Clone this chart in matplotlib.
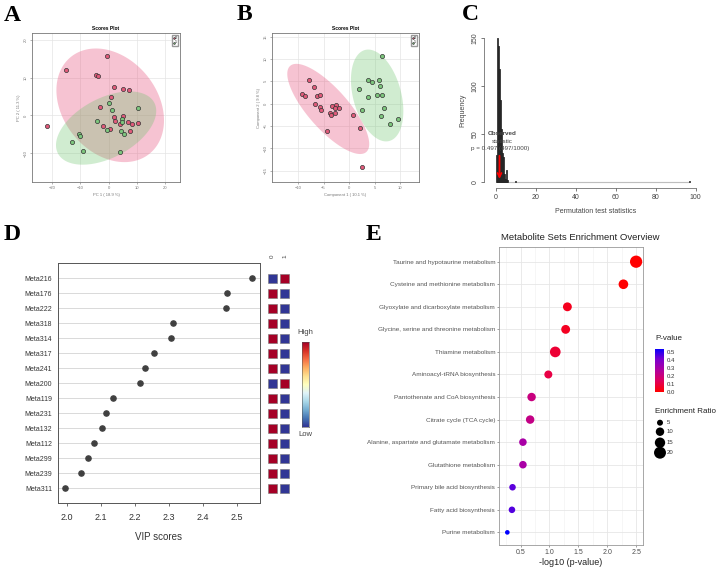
import numpy as np
import matplotlib
matplotlib.use("Agg")
import matplotlib.pyplot as plt
from matplotlib.colors import LinearSegmentedColormap, Normalize

plt.rcParams['font.family'] = ['Liberation Sans', 'DejaVu Sans']

# ---- A: PCA scores (groups 0 / 1)
A_red_x = [-0.6, -14.9, -4.4, -3.9, 2.0, 5.1, 7.1, 0.9, -2.9, 2.0, 2.4, 5.1, -1.8, 4.1, 6.8, 8.2, 10.4, 0.4, 7.6, -21.8]
A_red_y = [15.7, 12.0, 10.6, 10.3, 7.6, 7.1, 6.8, 5.0, 2.2, -0.3, -1.6, -0.2, -2.8, -2.2, -1.8, -2.2, -1.9, -3.7, -4.2, -2.8]
A_grn_x = [0.1, 1.2, 10.4, -4.1, 4.7, 4.7, -0.6, -10.4, -10.0, 4.5, 5.3, -12.9, -9.1, 4.1]
A_grn_y = [3.2, 1.5, 1.9, -1.6, -0.9, -1.7, -3.9, -4.8, -5.5, -4.2, -4.8, -7.0, -9.3, -9.6]

# ---- B: PLS-DA scores
B_red_x = [-7.9, -6.8, -9.2, -8.6, -6.2, -5.6, -6.6, -5.6, -5.5, -3.3, -2.6, -2.8, -1.9, -3.8, -3.6, -2.7, -4.4, 0.8, 2.1, 2.6]
B_red_y = [5.4, 3.7, 2.1, 1.8, 1.7, 1.9, -0.1, -0.8, -1.4, -0.6, -0.3, -1.0, -1.0, -2.0, -2.5, -2.1, -6.2, -2.5, -5.4, -14.1]
B_grn_x = [6.4, 3.7, 4.5, 5.8, 6.0, 1.9, 3.7, 5.4, 6.4, 6.8, 2.5, 6.2, 8.1, 9.6]
B_grn_y = [10.7, 5.3, 4.9, 5.4, 4.0, 3.3, 1.4, 1.9, 2.0, -1.0, -1.4, -2.8, -4.6, -3.4]

# ---- C: permutation histogram (bin width 0.5)
perm_bin_left = [0.0, 0.5, 1.0, 1.5, 2.0, 2.5, 3.0, 3.5, 4.0, 4.5, 5.0, 5.5, 9.5, 96.5]
perm_counts = [28, 150, 142, 118, 85, 55, 30, 26, 8, 3, 12, 2, 1, 1]
perm_max = 97.0
obs_stat = 1.9
obs_label = "p = 0.497 (497/1000)"

# ---- D: VIP scores
vip_names = ["Meta216", "Meta176", "Meta222", "Meta318", "Meta314", "Meta317", "Meta241", "Meta200",
             "Meta119", "Meta231", "Meta132", "Meta112", "Meta299", "Meta239", "Meta311"]
vip_scores = [2.545, 2.469, 2.467, 2.311, 2.305, 2.256, 2.231, 2.214, 2.135, 2.117, 2.105, 2.081, 2.063, 2.041, 1.995]
vip_group0 = [0, 1, 1, 1, 1, 1, 1, 0, 1, 1, 1, 1, 1, 1, 1]   # 1 = high
vip_group1 = [1, 0, 0, 0, 0, 0, 0, 1, 0, 0, 0, 0, 0, 0, 0]

# ---- E: enrichment overview
msea_names = ["Taurine and hypotaurine metabolism", "Cysteine and methionine metabolism",
              "Glyoxylate and dicarboxylate metabolism", "Glycine, serine and threonine metabolism",
              "Thiamine metabolism", "Aminoacyl-tRNA biosynthesis", "Pantothenate and CoA biosynthesis",
              "Citrate cycle (TCA cycle)", "Alanine, aspartate and glutamate metabolism",
              "Glutathione metabolism", "Primary bile acid biosynthesis", "Fatty acid biosynthesis",
              "Purine metabolism"]
msea_logp = [2.50, 2.28, 1.31, 1.28, 1.10, 0.98, 0.69, 0.665, 0.54, 0.54, 0.36, 0.35, 0.27]
msea_ratio = [21, 13, 11, 11, 16, 9, 10, 10, 8, 8, 6, 6, 3]
ratio_legend = [5, 10, 15, 20]

W, H = 719, 568


def rect(l, t, r, b):
    return [l / W, 1 - b / H, (r - l) / W, (b - t) / H]


def fpos(x, y):
    return x / W, 1 - y / H


fig = plt.figure(figsize=(W / 100, H / 100), dpi=100)


def conf_ellipse(ax, xs, ys, color, alpha):
    pts = np.column_stack([xs, ys])
    mu = pts.mean(axis=0)
    vals, vecs = np.linalg.eigh(np.cov(pts.T))
    t = np.linspace(0, 2 * np.pi, 200)
    circ = np.vstack([np.cos(t), np.sin(t)]) * np.sqrt(vals * 5.991)[:, None]
    ell = mu[:, None] + vecs @ circ
    ax.fill(ell[0], ell[1], color=color, alpha=alpha, lw=0, zorder=1)


def scores_panel(box, rx, ry, gx, gy, xlim, ylim, xticks, yticks, xlabel, ylabel):
    ax = fig.add_axes(rect(*box))
    conf_ellipse(ax, rx, ry, "#E8557E", 0.35)
    conf_ellipse(ax, gx, gy, "#66C266", 0.30)
    ax.scatter(rx, ry, s=9, c="#E05A7A", edgecolors="#333333", linewidths=0.5, zorder=3, label="0")
    ax.scatter(gx, gy, s=9, c="#7DC67D", edgecolors="#333333", linewidths=0.5, zorder=3, label="1")
    ax.set_xlim(*xlim)
    ax.set_ylim(*ylim)
    ax.set_xticks(xticks)
    ax.set_yticks(yticks)
    ax.grid(True, color="#e4e4e4", lw=0.5)
    ax.set_axisbelow(True)
    for s in ax.spines.values():
        s.set_color("#777777")
        s.set_linewidth(0.6)
    ax.tick_params(labelsize=3, colors="#777777", length=1.5, width=0.4, pad=1.5)
    for lab in ax.get_yticklabels():
        lab.set_rotation(90)
        lab.set_va("center")
    ax.set_title("Scores Plot", fontsize=3.5, fontweight="bold", pad=2)
    ax.set_xlabel(xlabel, fontsize=3, color="#777777", labelpad=2)
    ax.set_ylabel(ylabel, fontsize=3, color="#777777", labelpad=2)
    ax.legend(loc="upper right", fontsize=2.5, markerscale=0.4, handletextpad=0.1, borderpad=0.3,
              labelspacing=0.2, handlelength=0.6, fancybox=False, edgecolor="#999999", framealpha=1)
    return ax


scores_panel((32, 33, 180, 182), A_red_x, A_red_y, A_grn_x, A_grn_y,
             (-27.1, 25.3), (-17.6, 21.8), [-20, -10, 0, 10, 20], [-10, 0, 10, 20],
             "PC 1 ( 18.9 %)", "PC 2 ( 11.3 %)")
scores_panel((272, 33, 419, 182), B_red_x, B_red_y, B_grn_x, B_grn_y,
             (-15.1, 13.7), (-17.5, 15.8), [-10, -5, 0, 5, 10], [-15, -10, -5, 0, 5, 10, 15],
             "Component 1 ( 10.1 %)", "Component 2 ( 9.8 %)")

# ---- C
axc = fig.add_axes(rect(484, 33, 708, 188.3))
edges = np.arange(0, perm_max + 0.5, 0.5)
counts = np.zeros(len(edges) - 1)
for left, n in zip(perm_bin_left, perm_counts):
    counts[int(round(left / 0.5))] = n
zero = counts == 0
axc.bar(edges[:-1][zero], counts[zero], width=0.5, align="edge", color="none", edgecolor="#aaaaaa", lw=0.8)
axc.bar(edges[:-1][~zero], counts[~zero], width=0.5, align="edge", color="#bebebe", edgecolor="black", lw=0.5)
axc.set_xlim(-5.85, 106.15)
axc.set_ylim(-6.9, 155.5)
for k in ["top", "right"]:
    axc.spines[k].set_visible(False)
axc.spines["left"].set_bounds(0, 150)
axc.spines["bottom"].set_bounds(0, 100)
for k in ["left", "bottom"]:
    axc.spines[k].set_color("#555555")
    axc.spines[k].set_linewidth(0.5)
axc.set_xticks([0, 20, 40, 60, 80, 100])
axc.set_yticks([0, 50, 100, 150])
axc.tick_params(labelsize=5, colors="#444444", length=2, width=0.5, pad=2)
for lab in axc.get_yticklabels():
    lab.set_rotation(90)
    lab.set_va("center")
axc.set_xlabel("Permutation test statistics", fontsize=5, color="#444444", labelpad=5)
axc.set_ylabel("Frequency", fontsize=5, color="#444444", labelpad=4)
axc.annotate("", xy=(obs_stat, 0), xytext=(obs_stat, 30),
             arrowprops=dict(arrowstyle="->", color="red", lw=1.3, mutation_scale=7))
axc.text(obs_stat + 1.5, 50, "Observed", fontsize=4.5, fontweight="bold", color="#444444", ha="center", va="center")
axc.text(obs_stat + 1.5, 42.5, "statistic", fontsize=4.5, color="#444444", ha="center", va="center")
axc.text(obs_stat + 0.5, 35, obs_label, fontsize=4.5, color="#444444", ha="center", va="center")

# ---- D
axd = fig.add_axes(rect(57.7, 263, 260, 503))
rows = np.arange(len(vip_names))
for r in rows:
    axd.axhline(r, color="#d9d9d9", lw=0.7, zorder=1)
axd.scatter(vip_scores, rows, s=14, c="#404040", zorder=3)
axd.set_xlim(1.974, 2.567)
axd.set_ylim(14.98, -1.02)
axd.set_yticks(rows)
axd.set_yticklabels(vip_names, fontsize=5)
axd.set_xticks([2.0, 2.1, 2.2, 2.3, 2.4, 2.5])
axd.tick_params(axis="y", length=0, pad=4, colors="#333333")
axd.tick_params(axis="x", labelsize=6.5, colors="#333333", length=2.5, width=0.5, pad=5)
for s in axd.spines.values():
    s.set_color("#555555")
    s.set_linewidth(0.7)
axd.set_xlabel("VIP scores", fontsize=7, color="#333333", labelpad=7)

vcmap = plt.get_cmap("RdYlBu_r")
axh = fig.add_axes(rect(266, 263, 290, 503))
for col, vals in enumerate([vip_group0, vip_group1]):
    axh.scatter(np.full(len(vals), col), rows, marker="s", s=44,
                c=[vcmap(float(v)) for v in vals], edgecolors="#777777", linewidths=0.4)
axh.set_xlim(-0.55, 1.45)
axh.set_ylim(14.98, -1.02)
axh.axis("off")
for col, name in enumerate(["0", "1"]):
    axh.text(col, -1.35, name, rotation=90, fontsize=4.5, color="#444444", ha="center", va="bottom")

axcb = fig.add_axes(rect(302, 342, 308.5, 427))
axcb.imshow(np.linspace(1, 0, 200)[:, None], aspect="auto", cmap=vcmap)
axcb.set_xticks([])
axcb.set_yticks([])
for s in axcb.spines.values():
    s.set_linewidth(0.4)
    s.set_color("#555555")
fig.text(*fpos(305.2, 333), "High", fontsize=5.5, color="#444444", ha="center", va="center")
fig.text(*fpos(305.2, 434.5), "Low", fontsize=5.5, color="#444444", ha="center", va="center")

# ---- E
msea_p = 10 ** (-np.array(msea_logp))
pcmap = LinearSegmentedColormap.from_list("pval", ["#FF0000", "#E0005C", "#B000A0", "#7A00D0", "#0000FF"])
pnorm = Normalize(msea_p.min(), msea_p.max())
size_k = 3.7

axe = fig.add_axes(rect(499.3, 246.7, 642.7, 545))
mrows = np.arange(len(msea_names))
axe.scatter(msea_logp, mrows, s=np.array(msea_ratio) * size_k, c=pcmap(pnorm(msea_p)), zorder=3, lw=0)
axe.set_xlim(0.131, 2.614)
axe.set_ylim(12.56, -0.665)
axe.set_xticks([0.5, 1.0, 1.5, 2.0, 2.5])
axe.set_xticks([0.25, 0.75, 1.25, 1.75, 2.25], minor=True)
axe.set_yticks(mrows)
axe.set_yticklabels(msea_names, fontsize=4.6, color="#4d4d4d")
axe.grid(True, which="major", color="#e6e6e6", lw=0.6)
axe.grid(True, which="minor", axis="x", color="#f0f0f0", lw=0.4)
axe.set_axisbelow(True)
axe.tick_params(axis="both", which="major", length=1.5, width=0.4, colors="#555555", pad=1.5)
axe.tick_params(axis="x", which="major", labelsize=5, labelcolor="#4d4d4d")
axe.tick_params(which="minor", length=0)
for s in axe.spines.values():
    s.set_color("#999999")
    s.set_linewidth(0.6)
axe.set_xlabel("-log10 (p-value)", fontsize=6.5, color="#222222", labelpad=1.5)
fig.text(*fpos(580.7, 238), "Metabolite Sets Enrichment Overview", fontsize=6.8, color="#222222",
         ha="center", va="center")

# P-value colourbar
axpb = fig.add_axes(rect(655, 348.7, 664, 392))
grad = np.linspace(pnorm.vmax, pnorm.vmin, 200)[:, None]
axpb.imshow(grad, aspect="auto", cmap=pcmap, norm=pnorm,
            extent=(0, 1, pnorm.vmin, pnorm.vmax))
axpb.set_xticks([])
axpb.set_yticks([0.0, 0.1, 0.2, 0.3, 0.4, 0.5])
axpb.yaxis.tick_right()
axpb.tick_params(axis="y", length=1.2, width=0.4, colors="white", labelcolor="#333333", labelsize=4.3, pad=1)
axpb.set_yticklabels(["0.0", "0.1", "0.2", "0.3", "0.4", "0.5"])
for s in axpb.spines.values():
    s.set_visible(False)
fig.text(*fpos(655, 339), "P-value", fontsize=5.8, color="#222222", ha="left", va="center")

# Enrichment ratio legend
fig.text(*fpos(655, 411.7), "Enrichment Ratio", fontsize=5.8, color="#222222", ha="left", va="center")
overlay = fig.add_axes([0, 0, 1, 1])
overlay.set_xlim(0, W)
overlay.set_ylim(H, 0)
overlay.axis("off")
leg_y = [422.7, 431.7, 442.7, 452.7]
overlay.scatter([660] * len(ratio_legend), leg_y, s=np.array(ratio_legend) * size_k, c="black", lw=0)
for v, y in zip(ratio_legend, leg_y):
    overlay.text(666.5, y, str(v), fontsize=4.3, color="#333333", ha="left", va="center")

# panel letters
for letter, x, y in [("A", 4, 21), ("B", 237, 20), ("C", 462, 20), ("D", 4, 240), ("E", 366, 240)]:
    fig.text(*fpos(x, y), letter, fontsize=17, fontweight="bold", family="Liberation Serif",
             ha="left", va="baseline")

fig.savefig("out.png", dpi=100)
